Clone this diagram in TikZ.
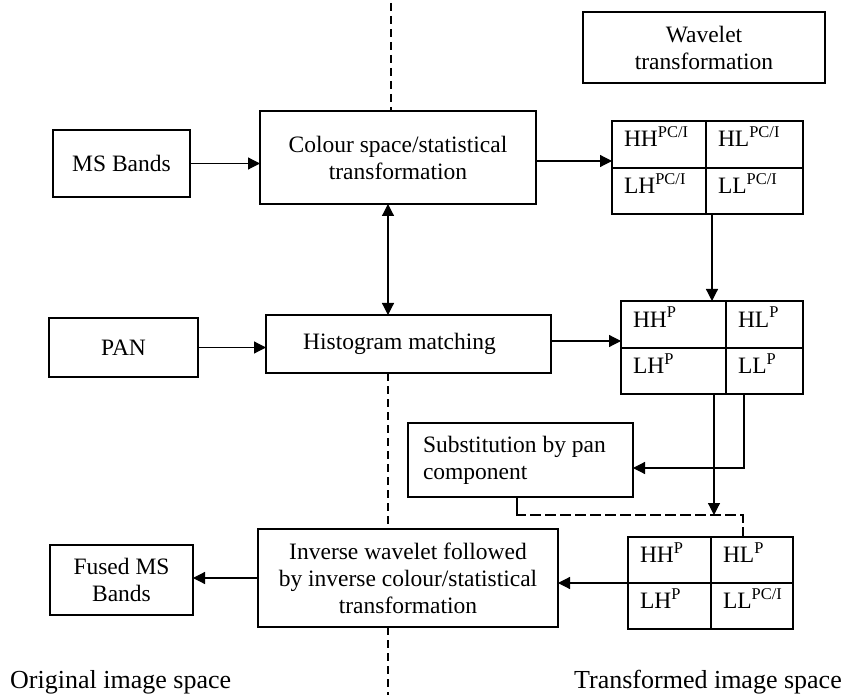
\documentclass[tikz,border=0pt]{standalone}
\usepackage{fontspec}
\setmainfont{Liberation Serif}
\usetikzlibrary{arrows.meta,calc}
\begin{document}
\begin{tikzpicture}[x=1pt,y=-1pt,
  box/.style={draw, line width=1.2pt, rectangle, anchor=north west, inner sep=0pt, outer sep=0pt,
    align=center, font=\fontsize{23.5}{27}\selectfont},
  cell/.style={draw, line width=1.2pt, rectangle, anchor=north west, inner xsep=12pt, inner ysep=0pt,
    outer sep=0pt, align=flush left, text height=16pt, text depth=11pt, font=\fontsize{23.5}{27}\selectfont},
  arr/.style={line width=1.2pt, -{Triangle[length=12pt,width=12pt]}},
  dbl/.style={line width=1.2pt, {Triangle[length=12pt,width=12pt]}-{Triangle[length=12pt,width=12pt]}},
  divl/.style={line width=1.1pt, dash pattern=on 8pt off 5pt},
  dashc/.style={line width=1.2pt, dash pattern=on 11pt off 4pt},
  lab/.style={font=\fontsize{26}{30}\selectfont, inner sep=0pt}
]
\useasboundingbox (0,0) rectangle (844,695);

% boxes
\node[box, minimum width=242pt, minimum height=71pt] (wave) at (583,12) {Wavelet\\transformation};
\node[box, minimum width=137pt, minimum height=67pt] (ms) at (53,130) {MS Bands};
\node[box, minimum width=276pt, minimum height=93pt] (colour) at (260,111) {Colour space/statistical\\transformation};
\node[box, minimum width=149pt, minimum height=59pt] (pan) at (49,318) {PAN};
\node[box, minimum width=285pt, minimum height=58pt] (hist) at (266,315) {Histogram matching\hspace*{18pt}};
\node[box, minimum width=225pt, minimum height=74pt, inner xsep=15pt, text width=195pt, align=flush left] (subst) at (408,423) {Substitution by pan\\component};
\node[box, minimum width=300pt, minimum height=98pt] (inv) at (258,529) {Inverse wavelet followed\\by inverse colour/statistical\\transformation};
\node[box, minimum width=143pt, minimum height=70pt] (fused) at (50,545) {Fused MS\\Bands};

% top grid
\node[cell, minimum width=94pt, minimum height=47pt, text width=70pt] (tgtl) at (612,121) {HH\textsuperscript{PC/I}};
\node[cell, minimum width=97pt, minimum height=47pt, text width=73pt] (tgtr) at (706,121) {HL\textsuperscript{PC/I}};
\node[cell, minimum width=94pt, minimum height=46pt, text width=70pt] (tgbl) at (612,168) {LH\textsuperscript{PC/I}};
\node[cell, minimum width=97pt, minimum height=46pt, text width=73pt] (tgbr) at (706,168) {LL\textsuperscript{PC/I}};

% middle grid
\node[cell, minimum width=105pt, minimum height=47pt, text width=81pt] (mgtl) at (621,301) {HH\textsuperscript{P}};
\node[cell, minimum width=77pt, minimum height=47pt, text width=53pt] (mgtr) at (726,301) {HL\textsuperscript{P}};
\node[cell, minimum width=105pt, minimum height=46pt, text width=81pt] (mgbl) at (621,348) {LH\textsuperscript{P}};
\node[cell, minimum width=77pt, minimum height=46pt, text width=53pt] (mgbr) at (726,348) {LL\textsuperscript{P}};

% bottom grid
\node[cell, minimum width=83pt, minimum height=46pt, text width=59pt] (bgtl) at (628,537) {HH\textsuperscript{P}};
\node[cell, minimum width=82pt, minimum height=46pt, text width=58pt] (bgtr) at (711,537) {HL\textsuperscript{P}};
\node[cell, minimum width=83pt, minimum height=46pt, text width=59pt] (bgbl) at (628,583) {LH\textsuperscript{P}};
\node[cell, minimum width=82pt, minimum height=46pt, text width=58pt] (bgbr) at (711,583) {LL\textsuperscript{PC/I}};

% labels
\node[lab, anchor=base west] (orig) at (10,688) {Original image space};
\node[lab, anchor=base east] (trans) at (842,688) {Transformed image space};

% divider (dashed)
\coordinate (d0) at (391,3);
\coordinate (dv) at (388,0);
\coordinate (dend) at (388,695);
\draw[divl] (d0) -- (d0 |- colour.north);
\draw[divl] (hist.south -| dv) -- (inv.north -| dv);
\draw[divl] (inv.south -| dv) -- (dend);

% connectors
\draw[arr] (ms.east) -- (ms.east -| colour.west);
\coordinate (c1) at ([yshift=-3.5pt]colour.east);
\draw[arr] (c1) -- (c1 -| tgtl.west);
\coordinate (a1) at ([xshift=6pt]tgbr.south west);
\draw[arr] (a1) -- (a1 |- mgtl.north);
\draw[dbl] (colour.south -| dv) -- (hist.north -| dv);
\draw[arr] (pan.east) -- (pan.east -| hist.west);
\coordinate (h1) at ([yshift=3pt]hist.east);
\draw[arr] (h1) -- (h1 -| mgtl.west);
\coordinate (m1) at ([xshift=18pt]mgbr.south west);
\coordinate (s1) at ([yshift=-8pt]subst.east);
\draw[arr] (m1) |- (s1);
\coordinate (m2) at ([xshift=-12pt]mgbl.south east);
\coordinate (join) at (714,515);
\draw[arr] (m2) -- (join);
\coordinate (s2) at (517,497);
\coordinate (s3) at (517,513);
\coordinate (b1) at ([xshift=32pt]bgtr.north west);
\draw[line width=1.2pt] (s2) -- (s3);
\draw[dashc] (s3) |- (join) -| (b1);
\draw[arr] (bgtl.south west) -- (bgtl.south west -| inv.east);
\draw[arr] (inv.west) -- (inv.west -| fused.east);
\end{tikzpicture}
\end{document}
